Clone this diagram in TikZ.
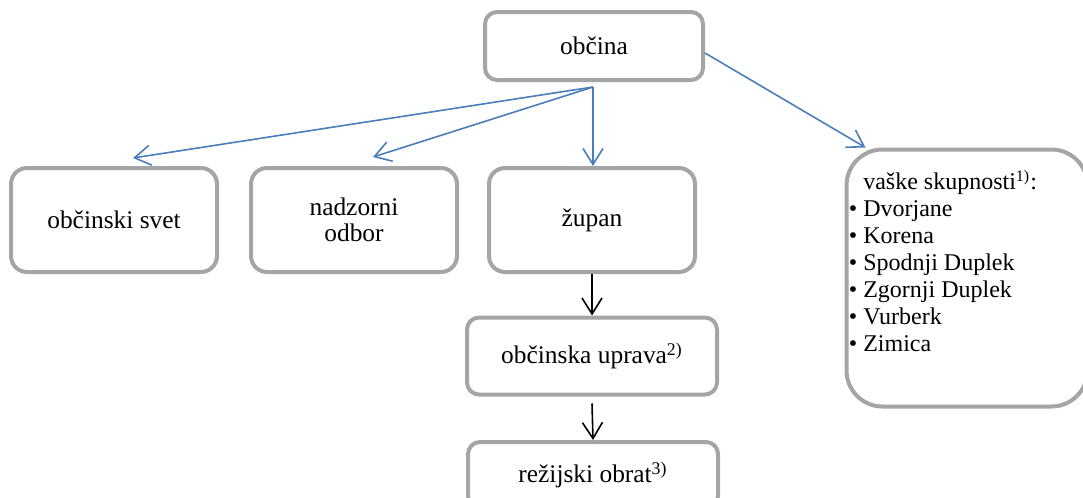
\documentclass[tikz,border=0pt]{standalone}
\usepackage{fontspec}
\setmainfont{Liberation Serif}
\usetikzlibrary{positioning,arrows.meta,calc}
\definecolor{boxgray}{HTML}{A5A5A5}
\definecolor{linkblue}{HTML}{4A7EBB}

\begin{document}
\begin{tikzpicture}[
      x=0.5pt, y=-0.5pt,
      font=\fontsize{12.7}{13}\selectfont,
      every node/.style={align=center},
      unit/.style={draw=boxgray, line width=2pt, fill=white, rounded corners=8pt,
                   minimum width=103pt, minimum height=52pt, inner sep=2pt},
      office/.style={unit, rounded corners=6pt,
                     minimum width=125pt, minimum height=38.5pt},
      local/.style={unit, rounded corners=18pt,
                    minimum width=120.5pt, minimum height=128.5pt},
      list/.style={align=left, inner sep=0pt, anchor=north west,
                   font=\fontsize{12}{13.5}\selectfont},
      link/.style={-{Straight Barb[length=8pt, width=10pt]}, line width=0.8pt,
                   draw=linkblue},
      down/.style={link, draw=black},
  ]
  \path[use as bounding box, clip] (0,0) rectangle (1083,498);

  % Top
  \node[unit, minimum width=109pt, minimum height=34pt, rounded corners=6pt]
        (obcina) at (594, 46)  {občina};
  \coordinate (fan) at (593, 87);

  % Second row
  \node[unit]   (svet)   at (114, 220) {občinski svet};
  \node[unit]   (nadzor) at (354, 220) {nadzorni\\odbor};
  \node[unit]   (zupan)  at (592, 220) {župan};
  \node[local]  (vaske)  at (967, 278) {};
  \node[list]   (naselja) at ([xshift=2pt, yshift=-11pt]vaske.north west)
        {\phantom{\textbullet}~vaške skupnosti\textsuperscript{1)}:\\
         \textbullet~Dvorjane\\
         \textbullet~Korena\\
         \textbullet~Spodnji Duplek\\
         \textbullet~Zgornji Duplek\\
         \textbullet~Vurberk\\
         \textbullet~Zimica};

  % Administration column
  \node[office] (uprava) at (592, 356) {občinska uprava\textsuperscript{2)}};
  \node[office, minimum height=33pt] (rezija) at (593, 475) {režijski obrat\textsuperscript{3)}};

  % Arrows from the municipality
  \draw[link] (fan) -- ([xshift=9.5pt, yshift=4pt]svet.north);
  \draw[link] (fan) -- ([xshift=9.5pt, yshift=4.5pt]nadzor.north);
  \draw[link] (fan) -- (fan |- zupan.north);
  \draw[link] ([yshift=-3.5pt]obcina.east) -- ([xshift=10.5pt]vaske.north west);

  % Chain below the mayor
  \draw[down] (zupan.south) -- (uprava.north);
  \draw[down] ([yshift=-3.5pt]uprava.south) -- (rezija.north);

\end{tikzpicture}
\end{document}
